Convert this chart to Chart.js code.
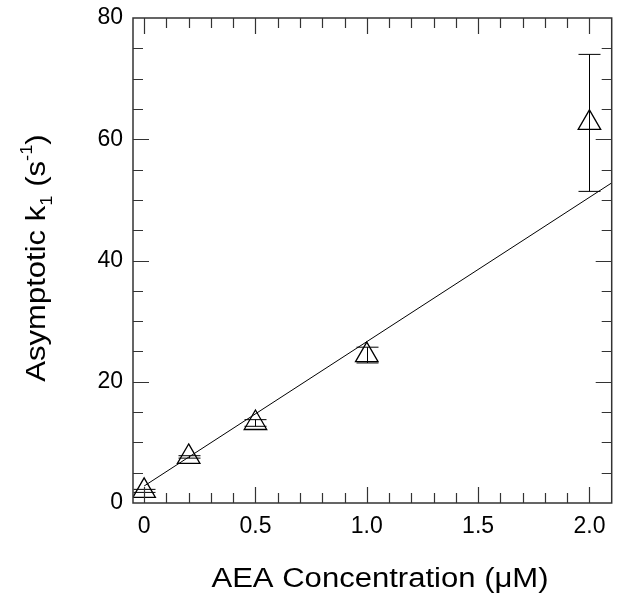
<!DOCTYPE html>
<html>
<head>
<meta charset="utf-8">
<script src="https://cdn.jsdelivr.net/npm/chart.js@4.4.1/dist/chart.umd.min.js"></script>
<style>
  body { margin: 0; background: #fff; overflow: hidden; }
  #wrap { width: 626px; height: 601px; position: relative; }
</style>
</head>
<body>
<div id="wrap"><canvas id="Chart1"></canvas></div>
<script>
// values
const concentrations = [0, 0.2, 0.5, 1.0, 2.0];
const k1Values = [2.0, 7.6, 13.2, 24.4, 62.7];
const k1Errors = [0.25, 0.2, 0.55, 1.3, 11.3];

// linear fit end points
const fitX = [0, 2.1];
const fitY = [2.8, 52.8];

const xTickValues = [0, 0.5, 1.0, 1.5, 2.0];
const xTickLabels = ['0', '0.5', '1.0', '1.5', '2.0'];
const yTickValues = [0, 20, 40, 60, 80];
const xMinorStep = 0.1;
const yMinorStep = 5;

const FONT = "'Liberation Sans', Arial, Helvetica, sans-serif";
const STRETCH = 1.15; // titles in the figure are drawn a bit wide

// frame, inward ticks, error bars and titles
const decorations = {
    id: 'decorations',
    afterDatasetsDraw(chart) {
        const ctx = chart.ctx;
        const xs = chart.scales.x;
        const ys = chart.scales.y;

        ctx.save();
        ctx.strokeStyle = '#000';
        ctx.lineWidth = 1;
        for (let i = 0; i < concentrations.length; i++) {
            const px = Math.round(xs.getPixelForValue(concentrations[i])) + 0.5;
            const top = ys.getPixelForValue(k1Values[i] + k1Errors[i]);
            const bot = ys.getPixelForValue(k1Values[i] - k1Errors[i]);
            ctx.beginPath();
            ctx.moveTo(px, top); ctx.lineTo(px, bot);
            ctx.moveTo(px - 11, top); ctx.lineTo(px + 11, top);
            ctx.moveTo(px - 11, bot); ctx.lineTo(px + 11, bot);
            ctx.stroke();
        }
        ctx.restore();
    },
    afterDraw(chart) {
        const ctx = chart.ctx;
        const a = chart.chartArea;
        const xs = chart.scales.x;
        const ys = chart.scales.y;

        ctx.save();
        ctx.strokeStyle = '#333';
        ctx.lineWidth = 1.5;
        ctx.strokeRect(a.left, a.top, a.right - a.left, a.bottom - a.top);

        ctx.lineWidth = 1.2;
        ctx.beginPath();
        for (let v = 0; v <= 2.0001; v += xMinorStep) {
            const major = xTickValues.some(t => Math.abs(t - v) < 1e-6);
            const len = major ? 16 : 10;
            const px = Math.round(xs.getPixelForValue(v)) + 0.5;
            ctx.moveTo(px, a.bottom); ctx.lineTo(px, a.bottom - len);
            ctx.moveTo(px, a.top); ctx.lineTo(px, a.top + len);
        }
        for (let v = yMinorStep; v < 80; v += yMinorStep) {
            const major = yTickValues.includes(v);
            const len = major ? 16 : 10;
            const py = Math.round(ys.getPixelForValue(v)) + 0.5;
            ctx.moveTo(a.left, py); ctx.lineTo(a.left + len, py);
            ctx.moveTo(a.right, py); ctx.lineTo(a.right - len, py);
        }
        ctx.stroke();
        ctx.restore();

        // x title
        ctx.save();
        ctx.fillStyle = '#000';
        ctx.font = '27px ' + FONT;
        ctx.textAlign = 'center';
        ctx.textBaseline = 'alphabetic';
        ctx.translate(380, 587);
        ctx.scale(STRETCH, 1);
        ctx.fillText('AEA Concentration (\u03BCM)', 0, 0);
        ctx.restore();

        // y title with subscript and superscript
        const parts = [
            ['Asymptotic k', 27, 0],
            ['1', 16, 7],
            [' (s', 27, 0],
            ['-1', 16, -13],
            [')', 27, 0]
        ];
        ctx.save();
        ctx.fillStyle = '#000';
        let total = 0;
        parts.forEach(p => { ctx.font = p[1] + 'px ' + FONT; total += ctx.measureText(p[0]).width; });
        ctx.translate(45, 258);
        ctx.rotate(-Math.PI / 2);
        ctx.scale(STRETCH, 1);
        ctx.textAlign = 'left';
        let cx = -total / 2;
        parts.forEach(p => {
            ctx.font = p[1] + 'px ' + FONT;
            ctx.fillText(p[0], cx, p[2]);
            cx += ctx.measureText(p[0]).width;
        });
        ctx.restore();
    }
};

const canvas = document.getElementById('Chart1');
const ctx = canvas.getContext('2d');

new Chart(ctx, {
    type: 'scatter',
    data: {
        datasets: [{
            data: concentrations.map((c, i) => ({ x: c, y: k1Values[i] })),
            pointStyle: 'triangle',
            pointRadius: 13,
            pointHoverRadius: 13,
            borderColor: '#000',
            borderWidth: 1.3,
            backgroundColor: 'rgba(0,0,0,0)'
        }, {
            type: 'line',
            data: fitX.map((x, i) => ({ x: x, y: fitY[i] })),
            borderColor: '#000',
            borderWidth: 1,
            pointRadius: 0,
            fill: false
        }]
    },
    options: {
        responsive: true,
        maintainAspectRatio: false,
        animation: false,
        layout: { padding: { top: 18, right: 11, left: 0, bottom: 0 } },
        plugins: { legend: { display: false }, tooltip: { enabled: false } },
        scales: {
            x: {
                type: 'linear',
                min: -0.05,
                max: 2.1,
                grid: { display: false, drawTicks: false },
                border: { display: false },
                afterBuildTicks: s => { s.ticks = xTickValues.map(v => ({ value: v })); },
                afterFit: s => { s.height = 98; s.paddingLeft = 0; s.paddingRight = 0; },
                ticks: {
                    padding: 10,
                    color: '#000',
                    font: { size: 23, family: FONT },
                    maxRotation: 0,
                    callback: (v, i) => xTickLabels[i]
                }
            },
            y: {
                min: 0,
                max: 80,
                grid: { display: false, drawTicks: false },
                border: { display: false },
                afterBuildTicks: s => { s.ticks = yTickValues.map(v => ({ value: v })); },
                afterFit: s => { s.width = 133; s.paddingTop = 0; s.paddingBottom = 0; },
                ticks: {
                    padding: 10,
                    color: '#000',
                    font: { size: 23, family: FONT }
                }
            }
        }
    },
    plugins: [decorations]
});
</script>
</body>
</html>
